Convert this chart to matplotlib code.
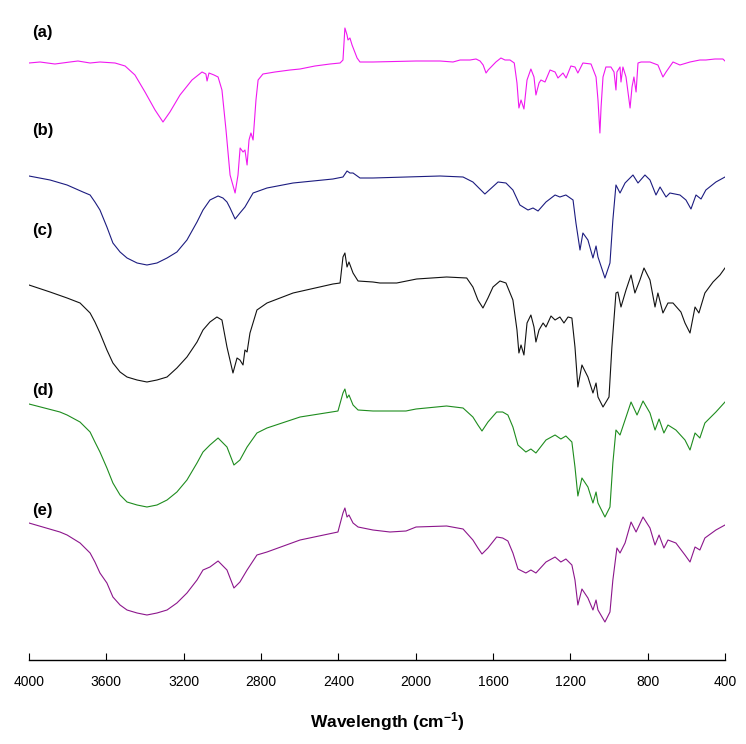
import matplotlib
matplotlib.use("Agg")
import matplotlib.pyplot as plt

# ---------------- data ----------------
# wavenumbers (cm-1) and stacked transmittance (arbitrary units, offset per spectrum)
a_wn = [4000, 3943, 3866, 3788, 3747, 3684, 3633, 3555, 3503, 3452, 3400, 3348, 3307, 3271,
        3219, 3157, 3105, 3085, 3079, 3069, 3043, 3022, 3002, 2981, 2960, 2934, 2919, 2908,
        2893, 2883, 2872, 2862, 2852, 2841, 2826, 2815, 2790, 2728, 2650, 2598, 2521, 2443,
        2391, 2376, 2366, 2355, 2350, 2340, 2329, 2303, 2288, 2221, 1998, 1874, 1807, 1770,
        1719, 1688, 1667, 1651, 1636, 1625, 1610, 1585, 1559, 1538, 1512, 1490, 1476, 1466,
        1455, 1440, 1424, 1404, 1388, 1378, 1362, 1352, 1331, 1305, 1279, 1264, 1238, 1222,
        1197, 1176, 1161, 1135, 1093, 1067, 1057, 1047, 1041, 1031, 1016, 990, 974, 964, 959,
        943, 938, 928, 912, 891, 881, 871, 860, 850, 834, 788, 747, 721, 705, 669, 633, 581,
        530, 499, 452, 411, 400]
a_t = [597, 598, 596, 598, 599, 597, 598, 597, 594, 585, 568, 550, 538, 548,
       565, 580, 588, 586, 579, 587, 585, 583, 570, 530, 485, 467, 485, 512,
       508, 510, 495, 520, 527, 520, 560, 580, 586, 588, 590, 591, 594, 596,
       597, 600, 632, 625, 620, 622, 615, 602, 598, 598, 599, 599, 598, 600,
       600, 601, 599, 595, 587, 590, 593, 598, 602, 600, 600, 597, 577, 552,
       560, 551, 580, 591, 583, 565, 577, 580, 578, 590, 588, 582, 587, 582,
       594, 593, 587, 597, 596, 583, 560, 527, 553, 583, 593, 593, 588, 570, 588,
       593, 578, 593, 583, 552, 573, 583, 568, 597, 598, 598, 595, 583, 588, 598, 595, 598,
       600, 600, 601, 601, 599]

b_wn = [4000, 3891, 3803, 3721, 3684, 3659, 3633, 3597, 3566, 3529, 3493, 3441, 3390, 3338,
        3286, 3235, 3183, 3131, 3100, 3064, 3022, 2997, 2976, 2960,
        2934, 2909, 2883, 2841, 2769, 2634, 2428, 2376, 2355, 2340, 2324, 2288, 2221, 1874,
        1755, 1704, 1642, 1574, 1533, 1497, 1461, 1419, 1393, 1367, 1326, 1279, 1254, 1223,
        1186, 1171, 1150, 1135, 1109, 1083, 1067, 1057, 1021, 995, 980, 964, 943, 917, 876,
        850, 814, 788, 757, 736, 705, 685, 633, 602, 576, 550, 524, 499, 447, 400]
b_t = [484, 480, 475, 468, 465, 458, 450, 433, 417, 408, 402, 397, 395, 397,
       402, 408, 420, 438, 450, 460, 464, 462, 458, 452,
       441, 447, 453, 467, 472, 477, 481, 483, 489, 487, 487, 482, 482, 484,
       483, 478, 466, 478, 477, 470, 455, 450, 452, 449, 458, 465, 463, 465,
       460, 437, 410, 427, 420, 402, 414, 403, 382, 397, 440, 475, 467, 477, 485,
       477, 485, 480, 465, 473, 463, 467, 465, 460, 451, 465, 461, 470, 478, 483]

c_wn = [4000, 3891, 3803, 3736, 3684, 3659, 3633, 3597, 3566, 3529, 3493, 3441, 3390, 3338,
        3286, 3235, 3183, 3131, 3100, 3064, 3028, 3002, 2976,
        2945, 2924, 2909, 2893, 2883, 2872, 2857, 2821, 2769, 2634, 2428, 2391, 2376, 2366,
        2355, 2345, 2324, 2298, 2221, 2185, 2098, 1995, 1840, 1736, 1704, 1678, 1652, 1626,
        1600, 1564, 1533,
        1497, 1476, 1466, 1455, 1440, 1424, 1404, 1388, 1378, 1362, 1341, 1326, 1300, 1279,
        1254, 1233, 1212, 1192, 1176, 1161, 1140, 1109, 1083, 1067, 1057, 1031, 1000, 985,
        964, 954, 938, 912, 886, 866, 840, 819, 788, 762, 747, 721, 695, 669, 628, 607, 581,
        555, 535, 504, 462, 426, 400]
c_t = [375, 368, 362, 357, 347, 338, 327, 310, 297, 288, 283, 280, 278, 280,
       283, 292, 303, 318, 330, 338, 343, 340, 313,
       287, 302, 300, 295, 310, 308, 327, 350, 357, 367, 376, 377, 403, 407,
       393, 398, 387, 379, 378, 377, 377, 381, 383, 382, 373, 360, 352, 362,
       373, 379, 377,
       360, 330, 307, 315, 305, 337, 345, 333, 318, 330, 337, 333, 344, 340,
       343, 337, 343, 342, 313, 273, 295, 283, 267, 277, 263, 253, 263, 313,
       367, 368, 353, 370, 385, 367, 380, 392, 380, 353, 367, 347, 357, 357, 348, 337, 327,
       353, 347, 367, 378, 385, 392]

d_wn = [4000, 3840, 3803, 3736, 3684, 3659, 3633, 3597, 3566, 3529, 3493, 3441, 3390, 3338,
        3286, 3235, 3183, 3131, 3100, 3064, 3022, 2976, 2940,
        2909, 2872, 2821, 2769, 2598, 2402, 2376, 2366, 2355, 2345, 2324, 2298, 2221, 2050,
        1998, 1840, 1755, 1704, 1678, 1657, 1626, 1581, 1550, 1523, 1497, 1471, 1430, 1404,
        1378, 1326, 1279,
        1249, 1223, 1192, 1176, 1161, 1140, 1109, 1083, 1067, 1057, 1021, 995, 980, 964, 943,
        917, 886, 855, 824, 788, 762, 741, 716, 695, 654, 607, 581, 555, 530, 504, 447, 400]
d_t = [256, 248, 245, 238, 228, 218, 208, 192, 177, 165, 158, 155, 153, 155,
       160, 168, 180, 197, 208, 215, 222, 213, 195,
       200, 213, 227, 232, 243, 249, 267, 271, 262, 265, 255, 250, 249, 249,
       251, 254, 252, 243, 235, 229, 238, 248, 248, 245, 233, 215, 208, 211,
       207, 220, 225,
       221, 224, 218, 193, 164, 182, 173, 157, 168, 157, 143, 153, 197, 230, 225,
       240, 258, 245, 259, 247, 230, 241, 227, 235, 230, 220, 210, 227, 222, 237, 248, 258]

e_wn = [4000, 3840, 3803, 3736, 3684, 3659, 3633, 3597, 3566, 3529, 3493, 3441, 3390, 3338,
        3286, 3235, 3183, 3131, 3100, 3064, 3022, 2976, 2940,
        2909, 2872, 2821, 2769, 2598, 2402, 2376, 2366, 2355, 2345, 2324, 2298, 2221, 2133,
        2050, 1998, 1840, 1755, 1704, 1678, 1657, 1626, 1581, 1550, 1523, 1497, 1471, 1430,
        1404, 1378, 1326,
        1279, 1249, 1223, 1192, 1176, 1161, 1140, 1109, 1083, 1067, 1057, 1021, 995, 980, 959,
        943, 917, 886, 860, 824, 788, 762, 741, 716, 695, 654, 607, 581, 555, 530, 504, 447, 400]
e_t = [137, 128, 125, 117, 107, 98, 87, 77, 63, 55, 50, 47, 45, 47,
       50, 57, 67, 80, 90, 93, 99, 90, 72,
       78, 90, 105, 108, 120, 128, 147, 152, 143, 145, 137, 133, 130, 128,
       129, 133, 134, 131, 120, 112, 106, 112, 123, 122, 119, 107, 91, 87,
       90, 87, 98,
       103, 98, 101, 95, 80, 55, 71, 62, 50, 60, 50, 38, 48, 80, 112,
       107, 117, 138, 128, 143, 132, 115, 125, 112, 120, 117, 105, 98, 113, 110, 122, 130, 135]

series_labels = ["(a)", "(b)", "(c)", "(d)", "(e)"]
x_ticks = [4000, 3600, 3200, 2800, 2400, 2000, 1600, 1200, 800, 400]

# ---------------- styling ----------------
plt.rcParams['font.family'] = ['Liberation Sans', 'DejaVu Sans']
plt.rcParams['mathtext.fontset'] = 'custom'
plt.rcParams['mathtext.rm'] = 'Liberation Sans:bold'
plt.rcParams['mathtext.default'] = 'rm'

colors = ['#F018F0', '#1C1C80', '#111111', '#1E8C1E', '#8C168C']

fig = plt.figure(figsize=(7.46, 7.44), dpi=100)
ax = fig.add_axes([29 / 746, 84 / 744, 696 / 746, 660 / 744])

spectra = [(a_wn, a_t), (b_wn, b_t), (c_wn, c_t), (d_wn, d_t), (e_wn, e_t)]
for (wn, t), col in zip(spectra, colors):
    ax.plot(wn, t, color=col, lw=0.8)

label_y = [628, 529, 429, 270, 150]
for lab, yy in zip(series_labels, label_y):
    ax.text(3985, yy, lab, ha='left', va='center', fontsize=12, fontweight='bold')

ax.set_xlim(4000, 400)
ax.set_ylim(0, 660)
ax.set_xticks(x_ticks)
ax.set_xticklabels([str(v) for v in x_ticks], fontsize=10)
ax.tick_params(axis='x', direction='in', length=5, width=0.8, pad=11)
ax.set_yticks([])
for s in ['left', 'right', 'top']:
    ax.spines[s].set_visible(False)
ax.spines['bottom'].set_linewidth(1.0)
ax.patch.set_alpha(0)

fig.text(387 / 746, 1 - 722 / 744, 'Wavelength (cm$^{-1}$)', ha='center', va='center',
         fontsize=12.5, fontweight='bold')

fig.savefig('out.png', dpi=100)
